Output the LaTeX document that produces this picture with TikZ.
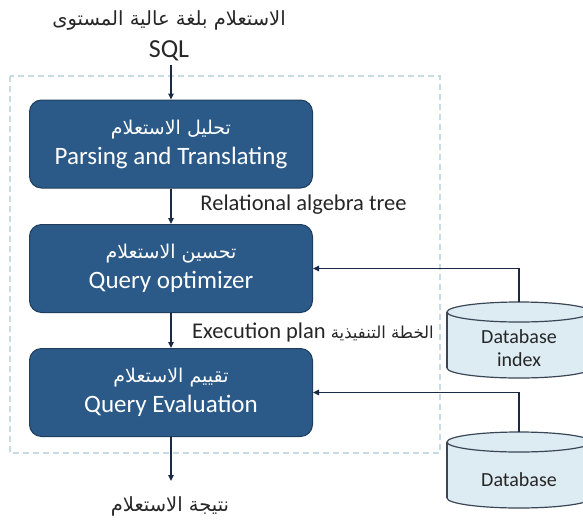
\documentclass[tikz,border=0pt]{standalone}
\usepackage{fontspec}
\setmainfont{Carlito}
\newfontfamily\arabicfont[Script=Arabic]{DejaVu Sans}
\TeXXeTstate=1
\usetikzlibrary{arrows.meta}
\definecolor{boxfill}{HTML}{2C5A88}
\definecolor{boxline}{HTML}{1F3E5E}
\definecolor{cylfill}{HTML}{DDEBF3}
\definecolor{cylline}{HTML}{3A4656}
\definecolor{dashcol}{HTML}{C8DAE4}
\definecolor{arrowcol}{HTML}{1B2A44}
\tikzset{
  stage/.style={rectangle, rounded corners=12pt, minimum width=283pt, minimum height=88pt,
    fill=boxfill, draw=boxline, line width=1pt, text=white, align=center, inner sep=0pt,
    font=\fontsize{25}{30}\selectfont},
  lbl/.style={inner sep=0pt, font=\fontsize{22.5}{26}\selectfont, text=black!85},
  arr/.style={draw=arrowcol, line width=1.3pt, -{Triangle[length=6pt,width=5.5pt]}},
  cylbody/.style={fill=cylfill, draw=cylline, line width=1.2pt},
  cyltext/.style={align=center, inner sep=0pt, font=\fontsize{20}{23}\selectfont, text=black!85},
  artext/.style={font=\fontsize{19.5}{22}\arabicfont}
}
\begin{document}
\begin{tikzpicture}[x=1pt,y=-1pt]
\useasboundingbox (0,0) rectangle (583,525);
% dashed frame
\draw[dashcol, line width=1.5pt, dash pattern=on 6pt off 4pt] (10,76) rectangle (440,453);
% top text
\node[lbl, artext] (q) at (169,20) {\beginR الاستعلام بلغة عالية المستوى\endR};
\node[lbl, font=\fontsize{26}{30}\selectfont] (sql) at (169,51) {SQL};
% stages
\node[stage] (b1) at (171,144) {{\arabicfont\fontsize{19}{30}\selectfont\beginR تحليل الاستعلام\endR}\\Parsing and Translating};
\node[stage] (b2) at (171,268.5) {{\arabicfont\fontsize{19}{30}\selectfont\beginR تحسين الاستعلام\endR}\\Query optimizer};
\node[stage] (b3) at (171,392.5) {{\arabicfont\fontsize{19}{30}\selectfont\beginR تقييم الاستعلام\endR}\\Query Evaluation};
% labels
\node[lbl] (l1) at (303.5,205) {Relational algebra tree};
\node[lbl] (l2) at (313,332) {Execution plan {\arabicfont\fontsize{16.5}{20}\selectfont\beginR الخطة التنفيذية\endR}};
% result
\node[lbl, artext] (res) at (170,506) {\beginR نتيجة الاستعلام\endR};
% arrows
\coordinate (sqlb) at (171,65);
\draw[arr] (sqlb) -- (b1.north);
\draw[arr] (b1.south) -- (b2.north);
\draw[arr] (b2.south) -- (b3.north);
\coordinate (resb) at (171,481);
\draw[arr] (b3.south) -- (resb);
% cylinder 1 (index)
\fill[cylbody] (519,368) ellipse[x radius=72, y radius=10];
\fill[cylfill] (447,312) rectangle (591,368);
\draw[cylline, line width=1.2pt] (447,312) -- (447,368) (591,312) -- (591,368);
\filldraw[cylbody] (519,312) ellipse[x radius=72, y radius=10];
\node[cyltext] (dbi) at (519,348) {Database\\index};
\coordinate (dbitop) at (519,302);
% cylinder 2 (database)
\filldraw[cylbody] (519,498) ellipse[x radius=72, y radius=10];
\fill[cylfill] (447,442) rectangle (591,498);
\draw[cylline, line width=1.2pt] (447,442) -- (447,498) (591,442) -- (591,498);
\filldraw[cylbody] (519,442) ellipse[x radius=72, y radius=10];
\node[cyltext] (db) at (519,480) {Database};
\coordinate (dbtop) at (519,432);
% connectors
\draw[arr] (dbitop) |- (b2.east);
\draw[arr] (dbtop) |- (b3.east);
\end{tikzpicture}
\end{document}
